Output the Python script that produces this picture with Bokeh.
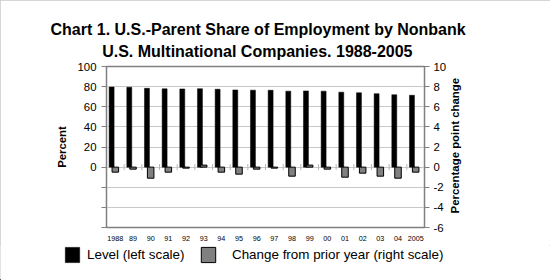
import math
from bokeh.plotting import figure
from bokeh.layouts import column
from bokeh.models import (ColumnDataSource, FactorRange, Range1d, LinearAxis,
                          FixedTicker, Title, Legend, LegendItem)
from bokeh.transform import dodge
from bokeh.embed import file_html
from bokeh.resources import INLINE

# ---- data ----
years = ["1988", "89", "90", "91", "92", "93", "94", "95", "96", "97",
         "98", "99", "00", "01", "02", "03", "04", "2005"]
level = [79.6, 79.4, 78.3, 77.8, 77.7, 77.9, 77.4, 76.7, 76.5, 76.4,
         75.5, 75.7, 75.5, 74.5, 73.9, 73.0, 71.9, 71.4]
change = [-0.5, -0.2, -1.1, -0.5, -0.1, 0.2, -0.5, -0.7, -0.2, -0.1,
          -0.9, 0.2, -0.2, -1.0, -0.6, -0.9, -1.1, -0.5]
left_ticks = [-60, -40, -20, 0, 20, 40, 60, 80, 100]
left_labels = {-60: "", -40: "", -20: "", 0: "0", 20: "20", 40: "40",
               60: "60", 80: "80", 100: "100"}
right_ticks = [-6, -4, -2, 0, 2, 4, 6, 8, 10]
right_labels = {t: str(t) for t in right_ticks}

title_1 = "Chart 1. U.S.-Parent Share of Employment by Nonbank"
title_2 = "U.S. Multinational Companies. 1988-2005"
left_title = "Percent"
right_title = "Percentage point change"
legend_1 = "Level (left scale)"
legend_2 = "Change from prior year (right scale)"

FONT = "Liberation Sans"

src = ColumnDataSource(dict(year=years, level=level, change=change))

p = figure(width=550, height=245, x_range=FactorRange(*years),
           y_range=Range1d(-60, 100), output_backend="svg",
           toolbar_location=None, min_border_left=106, min_border_right=126,
           min_border_top=66, min_border_bottom=18)
try:
    p.frame_align = False
except Exception:
    pass
p.extra_y_ranges = {"right": Range1d(-6, 10)}
p.background_fill_color = "white"
p.border_fill_color = "white"
p.outline_line_color = "#808080"
p.outline_line_width = 1.5

# grid
p.xgrid.grid_line_color = None
p.ygrid.ticker = FixedTicker(ticks=left_ticks)
p.ygrid.grid_line_color = "#c8c8c8"
p.ygrid.grid_line_width = 1

# bottom axis
p.xaxis.axis_line_color = None
p.xaxis.major_tick_line_color = None
p.xaxis.major_tick_out = 0
p.xaxis.major_label_standoff = 8
p.xaxis.major_label_text_font = FONT
p.xaxis.major_label_text_font_size = "7.2px"
p.xaxis.major_label_text_color = "black"

# left axis
ya = p.yaxis[0]
ya.ticker = FixedTicker(ticks=left_ticks)
ya.major_label_overrides = left_labels
ya.axis_line_color = "#808080"
ya.major_tick_line_color = "#808080"
ya.major_tick_out = 5
ya.major_tick_in = 0
ya.minor_tick_line_color = None
ya.major_label_standoff = 5
ya.major_label_text_font = FONT
ya.major_label_text_font_size = "11.4px"
ya.major_label_text_color = "black"
ya.axis_label = left_title
ya.axis_label_text_font = FONT
ya.axis_label_text_font_size = "11.3px"
ya.axis_label_text_font_style = "bold"
ya.axis_label_text_color = "black"
ya.axis_label_standoff = 6

# right axis
ra = LinearAxis(y_range_name="right", ticker=FixedTicker(ticks=right_ticks))
ra.major_label_overrides = right_labels
ra.axis_line_color = "#808080"
ra.major_tick_line_color = "#808080"
ra.major_tick_out = 5
ra.major_tick_in = 0
ra.minor_tick_line_color = None
ra.major_label_standoff = 4
ra.major_label_text_font = FONT
ra.major_label_text_font_size = "11.4px"
ra.major_label_text_color = "black"
p.add_layout(ra, "right")

# right-axis title, written upward, as the single label of a bare outer axis
RT = -4.6
rt = LinearAxis(y_range_name="right", ticker=FixedTicker(ticks=[RT]))
rt.major_label_overrides = {RT: right_title}
rt.major_label_orientation = math.pi / 2
rt.axis_line_color = None
rt.major_tick_line_color = None
rt.minor_tick_line_color = None
rt.major_tick_out = 0
rt.major_tick_in = 0
rt.major_label_standoff = 6
rt.major_label_text_font = FONT
rt.major_label_text_font_size = "11.4px"
rt.major_label_text_font_style = "bold"
rt.major_label_text_color = "black"
p.add_layout(rt, "right")

# category tick marks on the zero line
p.segment(x0=dodge("year", 0.5, range=p.x_range), x1=dodge("year", 0.5, range=p.x_range),
          y0=-0.3, y1=0.3, y_range_name="right", source=src,
          line_color="#b8b8b8", line_width=1)

# bars
r_level = p.vbar(x=dodge("year", -0.21, range=p.x_range), top="level", bottom=0,
                 width=0.28, source=src, fill_color="black", line_color="black",
                 line_width=0.5)
r_change = p.vbar(x=dodge("year", 0.0, range=p.x_range), top="change", bottom=0,
                  width=0.37, source=src, y_range_name="right",
                  fill_color="#808080", line_color="black", line_width=1)

# titles (second line added first: it sits closest to the plot)
p.add_layout(Title(text=title_2, align="left", offset=-4.3, standoff=14,
                   text_font=FONT, text_font_size="16px", text_font_style="bold",
                   text_color="black"), "above")
t1 = Title(text=title_1, align="left", offset=-56, standoff=0,
           text_font=FONT, text_font_size="16px", text_font_style="bold",
           text_color="black")
try:
    t1.standoff = -9
except Exception:
    pass
p.add_layout(t1, "above")

# legend row: a second figure holding only the legend keys
q = figure(width=550, height=35, x_range=Range1d(0, 550), y_range=Range1d(0, 35),
           output_backend="svg", toolbar_location=None, min_border=0,
           x_axis_location=None, y_axis_location=None)
try:
    q.frame_align = False
except Exception:
    pass
q.grid.grid_line_color = None
q.outline_line_color = None
q.background_fill_color = "white"
q.border_fill_color = "white"
# invisible key glyphs (placed outside the visible range)
k_level = q.vbar(x=[-100], top=[1], width=1, fill_color="black", line_color="black",
                 line_width=0.5)
k_change = q.vbar(x=[-100], top=[1], width=1, fill_color="#808080",
                  line_color="black", line_width=1)

def make_legend(label, renderer, loc, standoff):
    lg = Legend(items=[LegendItem(label=label, renderers=[renderer])], location=loc,
                orientation="horizontal", padding=0, margin=0, spacing=0,
                glyph_width=18, glyph_height=19, label_height=19,
                label_standoff=standoff, border_line_color=None,
                background_fill_alpha=0, label_text_font=FONT,
                label_text_font_size="13.4px", label_text_color="black")
    q.add_layout(lg, "center")

make_legend(legend_1, k_level, (63, 16), 6)
make_legend(legend_2, k_change, (199, 16), 15)

layout = column(p, q, spacing=0,
                styles={"outline": "1px solid #c8c8c8", "outline-offset": "-1px"})

open("out.html", "w").write(file_html(layout, INLINE))
